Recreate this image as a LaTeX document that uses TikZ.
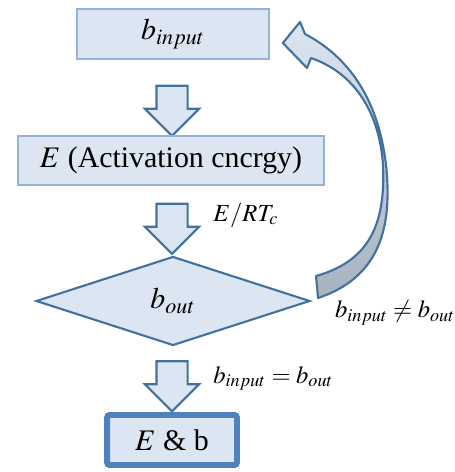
\documentclass[tikz,border=0pt]{standalone}
\usepackage{mathptmx}
\usepackage{fontspec}
\setmainfont{Liberation Serif}
\usetikzlibrary{shapes.geometric,shapes.arrows,positioning,calc}
\definecolor{boxfill}{HTML}{DCE6F2}
\definecolor{boxline}{HTML}{95B3D7}
\definecolor{arrowline}{HTML}{41719C}
\definecolor{finalline}{HTML}{4F81BD}
\definecolor{loopgray}{HTML}{A7B2BF}
\tikzset{
  every picture/.style = {
    x = 0.02cm,
    y = -0.02cm,
  }
  ,
  procbox/.style = {
    rectangle,
    draw = boxline,
    fill = boxfill,
    line width = 1pt,
    inner sep = 0pt,
    font = \fontsize{17}{20}\selectfont
  }
  , % the test
  decision/.style = {
    diamond,
    draw = arrowline,
    fill = boxfill,
    line width = 1.2pt,
    inner sep = 0pt,
    aspect = 3,
    minimum width = 5.48cm,
    minimum height = 1.78cm,
    font = \fontsize{17}{20}\selectfont
  }
  , % result box
  finalbox/.style = {
    procbox,
    draw = finalline,
    line width = 3.4pt,
    rounded corners = 1.5pt
  }
  , % down arrows between the steps
  downarrow/.style = {
    single arrow,
    rotate = -90,
    draw = arrowline,
    fill = boxfill,
    line width = 1.2pt,
    inner sep = 0pt,
    inner ysep = 0.29cm,
    single arrow head extend = 0.23cm,
    minimum height = 1cm
  }
  , % labels of arrows
  label-arrow/.style = {
    font = \fontsize{14}{16}\selectfont,
    inner sep = 0pt
  }
  , % the way back
  loop-arrow/.style = {
    draw = arrowline,
    line width = 1.2pt,
    line join = round,
    top color = boxfill,
    middle color = boxfill,
    bottom color = loopgray
  }
}
\begin{document}
\begin{tikzpicture}
		\useasboundingbox (0,0) rectangle (454,472);
		\node at (173,34) [procbox, minimum width = 3.84cm, minimum height = 1cm] (in) {$b_{input}$};
		\node at (172,103) [downarrow] (a1) {};
		\node at (171,160.5) [procbox, minimum width = 6.12cm, minimum height = 0.98cm] (en) {$E$ (Activation cncrgy)};
		\node at (172,221) [downarrow] (a2) {};
		\node at (173,301) [decision] (out) {$b_{out}$};
		\node at (172,378.5) [downarrow] (a3) {};
		\node at (172,440) [finalbox, minimum width = 2.6cm, minimum height = 1cm] (res) {$E$ \& b};

		\node[label-arrow, right = 0.82cm of a2.center, yshift = 0.12cm] (l2) {$E/RT_c$};
		\node[label-arrow, right = 0.82cm of a3.center] (l3) {$b_{input} = b_{out}$};
		\node[label-arrow] at (395,313) (l4) {$b_{input} \neq b_{out}$};

		\coordinate (tip) at ($(in.east)+(13,9)$);
		\coordinate (tail) at ($(out.east)+(5,-25)$);
		\draw[loop-arrow] (tip) -- (300,22) -- (305,34)
			.. controls (345,55) and (378,95) .. (386,165)
			.. controls (393,230) and (378,278) .. (318,298)
			-- (tail)
			.. controls (365,262) and (386,230) .. (383,165)
			.. controls (380,120) and (360,75) .. (311,58)
			-- (307,68) -- cycle;
\end{tikzpicture}
\end{document}
